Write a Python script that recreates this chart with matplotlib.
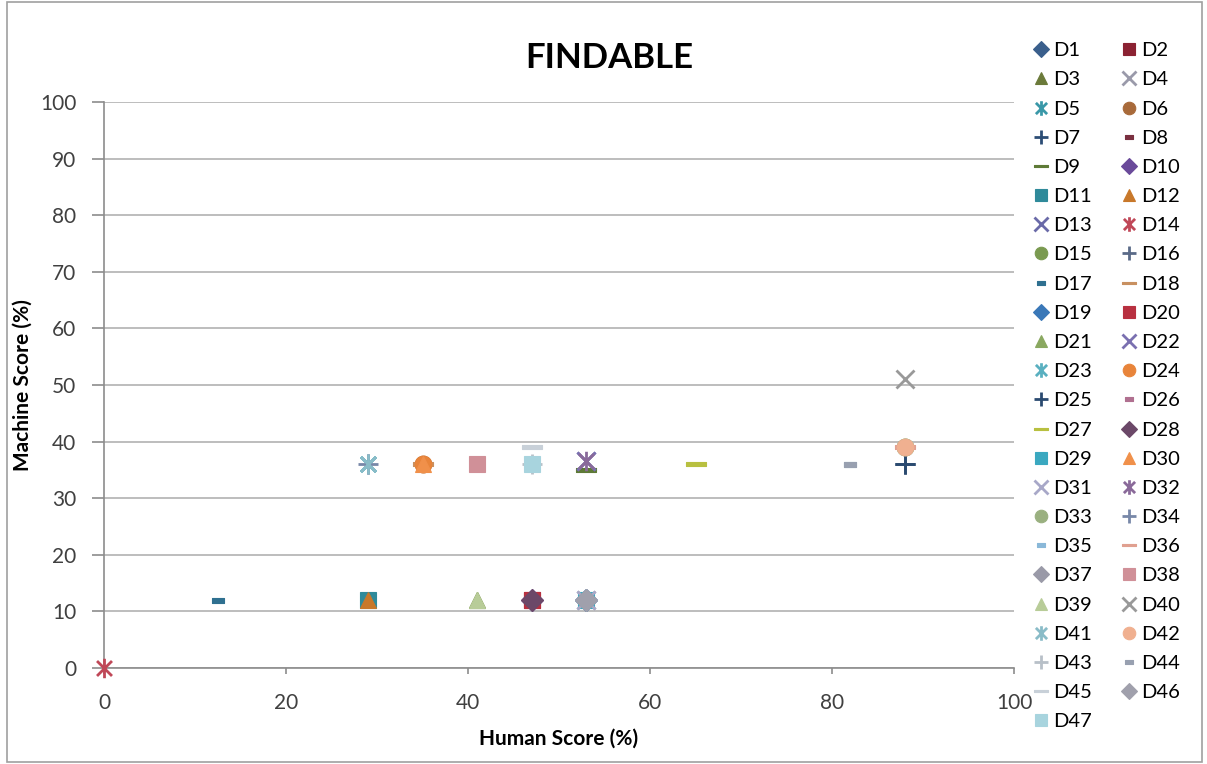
import matplotlib
matplotlib.use("Agg")
import matplotlib.pyplot as plt
from matplotlib.path import Path
from matplotlib.patches import Rectangle

plt.rcParams['font.family'] = ['Lato', 'DejaVu Sans']

# series names
names = ["D%d" % i for i in range(1, 48)]

# human score (x) and machine score (y) per series
human = [53, 47, 41, 53, 29, 35, 88, 47, 53, 47,
         29, 29, 53, 0, 88, 88, 12.5, 35, 53, 47,
         41, 53, 29, 35, 88, 47, 65, 47, 53, 35,
         53, 53, 88, 29, 82, 88, 53, 41, 41, 88,
         29, 88, 47, 82, 47, 53, 47]
machine = [12, 12, 12, 12, 36, 36, 36, 12, 35, 12,
           12, 12, 36.5, 0, 39, 36, 12, 36, 12, 12,
           12, 36.5, 36, 36, 36, 12, 36, 12, 12, 36,
           12, 36.5, 39, 36, 36, 39, 12, 36, 12, 51,
           36, 39, 36, 36, 39, 12, 36]

colors = ["#3A5F8C", "#8B2232", "#6B7A3A", "#9A9AAA", "#3A98A8", "#A86A3A", "#2C4D75", "#7A3040",
          "#5E7A36", "#6A4A9A", "#2F8A9A", "#C8782A", "#6A6AA8", "#C04858", "#7A9A50", "#5A6A88",
          "#2F7090", "#C89060", "#3A78B8", "#B83040", "#8AA860", "#7A70B0", "#5AB0C0", "#E8843A",
          "#2A4A70", "#B07090", "#B8C040", "#6B4868", "#3AA8C0", "#F0904A", "#A8A8C8", "#8A6A9A",
          "#9AB080", "#7888A8", "#8AB8D8", "#E0A090", "#9A9AA8", "#D09098", "#B8CC98", "#999999",
          "#8ABCC8", "#F0B090", "#B8C0C8", "#98A0B0", "#C8D0D8", "#A0A0AC", "#A8D4DE"]

# excel marker cycle
M = Path.MOVETO
L = Path.LINETO
asterisk = Path([(-1, -1), (1, 1), (-1, 1), (1, -1), (0, -1.3), (0, 1.3)],
                [M, L, M, L, M, L])
short_dash = Path([(-1, -0.45), (1, -0.45), (1, 0.45), (-1, 0.45), (-1, -0.45)])
long_dash = Path([(-1, -0.18), (1, -0.18), (1, 0.18), (-1, 0.18), (-1, -0.18)])
cycle = ["D", "s", "^", "x", asterisk, "o", "+", short_dash, long_dash]
sizes = [11, 12, 11, 13, 14, 12, 14, 8, 14]
open_markers = {3, 4, 6}

fig = plt.figure(figsize=(12.07, 7.64), dpi=100)
ax = fig.add_axes([104 / 1207, 1 - 668 / 764, 910 / 1207, 566 / 764])

handles = []
for i, name in enumerate(names):
    k = i % 9
    c = colors[i]
    if k in open_markers:
        h, = ax.plot([human[i]], [machine[i]], linestyle="none", marker=cycle[k],
                     markersize=sizes[k], markeredgecolor=c, markerfacecolor="none",
                     markeredgewidth=2.0, clip_on=False, label=name, zorder=3)
    else:
        h, = ax.plot([human[i]], [machine[i]], linestyle="none", marker=cycle[k],
                     markersize=sizes[k], markeredgecolor=c, markerfacecolor=c,
                     markeredgewidth=0.8, clip_on=False, label=name, zorder=3)
    handles.append(h)

ax.set_xlim(0, 100)
ax.set_ylim(0, 100)
ax.set_xticks(range(0, 101, 20))
ax.set_yticks(range(0, 101, 10))
ax.yaxis.grid(True, color="#B8B8B8", linewidth=1.3)
ax.set_axisbelow(True)
for s in ["top", "right"]:
    ax.spines[s].set_visible(False)
for s in ["left", "bottom"]:
    ax.spines[s].set_color("#8C8C8C")
    ax.spines[s].set_linewidth(1.2)
ax.tick_params(axis="both", labelsize=15, colors="#8C8C8C", labelcolor="#404040", width=1.2)
ax.tick_params(axis="x", length=4, pad=14)
ax.tick_params(axis="y", length=9, pad=11)

ax.set_xlabel("Human Score (%)", fontsize=15, fontweight="bold", labelpad=11)
ax.set_ylabel("Machine Score (%)", fontsize=15, fontweight="bold", labelpad=5)
fig.text(0.505, 1 - 58 / 764, "FINDABLE", fontsize=25, fontweight="bold", ha="center", va="center")

# legend filled row by row like excel
order = list(range(0, 47, 2)) + list(range(1, 47, 2))
leg = fig.legend([handles[j] for j in order], [names[j] for j in order],
                 loc="upper left", bbox_to_anchor=(1015 / 1207, 1 - 24 / 764), ncol=2,
                 frameon=False, fontsize=14.5, labelspacing=0.6, handlelength=0.8,
                 handletextpad=0.2, columnspacing=1.45, numpoints=1, markerscale=0.75)

fig.patches.append(Rectangle((0.006, 0.003), 0.99, 0.994, transform=fig.transFigure,
                             fill=False, edgecolor="#A0A0A0", linewidth=1.2))

fig.savefig("out.png", dpi=100)
